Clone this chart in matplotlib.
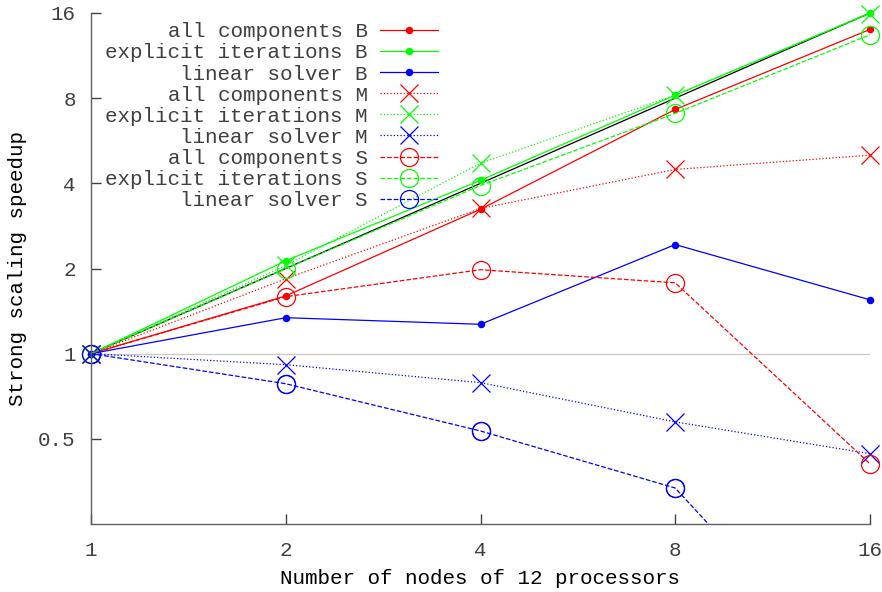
import matplotlib
matplotlib.use('Agg')
import matplotlib.pyplot as plt

# nodes and speedups
nodes = [1, 2, 4, 8, 16]

all_B = [1.0, 1.60, 3.24, 7.3, 14.0]
expl_B = [1.0, 2.13, 4.1, 8.2, 16.0]
lin_B = [1.0, 1.34, 1.27, 2.43, 1.55]

all_M = [1.0, 1.84, 3.26, 4.48, 5.03]
expl_M = [1.0, 2.05, 4.71, 8.2, 15.9]
lin_M = [1.0, 0.914, 0.79, 0.574, 0.443]

all_S = [1.0, 1.59, 1.98, 1.78, 0.408]
expl_S = [1.0, 2.0, 3.93, 7.07, 13.4]
lin_S = [1.0, 0.783, 0.533, 0.335, 0.06]

ideal = [1, 2, 4, 8, 16]

plt.rcParams['font.family'] = ['Liberation Mono', 'DejaVu Sans Mono']
plt.rcParams['font.size'] = 15
plt.rcParams['text.color'] = '#404040'

fig = plt.figure(figsize=(8.82, 5.92), dpi=100)
ax = fig.add_axes([91/882, 1-524/592, (870-91)/882, (524-13)/592])

lw = 0.9
ax.axhline(1, color='#c8c8c8', lw=0.9, zorder=0)
ax.plot(nodes, ideal, color='black', lw=lw, zorder=1)

# series: (values, label, colour, linestyle, marker, markersize)
series = [
    (all_B, 'all components B', 'red', '-', 'o', 4.5),
    (expl_B, 'explicit iterations B', '#00ff00', '-', 'o', 4.5),
    (lin_B, 'linear solver B', 'blue', '-', 'o', 4.5),
    (all_M, 'all components M', 'red', ':', 'x', 13),
    (expl_M, 'explicit iterations M', '#00ff00', ':', 'x', 13),
    (lin_M, 'linear solver M', 'blue', ':', 'x', 13),
    (all_S, 'all components S', 'red', '--', 'o', 13),
    (expl_S, 'explicit iterations S', '#00ff00', '--', 'o', 13),
]

handles = []
for vals, lab, col, ls, mk, ms in series:
    if mk == 'o' and ms > 5:
        h, = ax.plot(nodes, vals, color=col, ls=ls, lw=lw, marker='o', ms=ms,
                     mfc='none', mec=col, mew=lw, label=lab, clip_on=False)
    else:
        h, = ax.plot(nodes, vals, color=col, ls=ls, lw=lw, marker=mk, ms=ms,
                     mec=col, mew=lw, label=lab, clip_on=False)
    handles.append(h)

# last series runs off the bottom: clip the line, keep visible markers
h, = ax.plot(nodes, lin_S, color='blue', ls='--', lw=lw, marker='o', ms=13,
             mfc='none', mec='blue', mew=lw, markevery=[0, 1, 2, 3],
             label='linear solver S')
ax.plot(nodes[:4], lin_S[:4], ls='none', marker='o', ms=13, mfc='none',
        mec='blue', mew=lw, clip_on=False)
handles.append(h)

ax.set_xscale('log', base=2)
ax.set_yscale('log', base=2)
ax.set_xlim(1, 16)
ax.set_ylim(0.25, 16)
ax.set_xticks([1, 2, 4, 8, 16])
ax.set_xticklabels(['1', '2', '4', '8', '16'])
ax.set_yticks([0.5, 1, 2, 4, 8, 16])
ax.set_yticklabels(['0.5', '1', '2', '4', '8', '16'])
ax.minorticks_off()

for s in ['top', 'right']:
    ax.spines[s].set_visible(False)
for s in ['left', 'bottom']:
    ax.spines[s].set_color('#606060')
    ax.spines[s].set_linewidth(1.0)
ax.tick_params(direction='in', length=7, width=1, color='#404040',
               labelcolor='#404040')
ax.tick_params(axis='x', pad=12)
ax.tick_params(axis='y', pad=11)

ax.set_xlabel('Number of nodes of 12 processors', labelpad=7)
ax.set_ylabel('Strong scaling speedup', labelpad=8)

leg = ax.legend(handles=handles, loc='upper right', markerfirst=False,
                frameon=False, handlelength=2.75, handletextpad=0.6,
                labelspacing=0.1, bbox_to_anchor=(446/882, 1-14/592),
                bbox_transform=fig.transFigure, borderaxespad=0)
for t in leg.get_texts():
    t.set_ha('right')

fig.savefig('out.png', dpi=100)
